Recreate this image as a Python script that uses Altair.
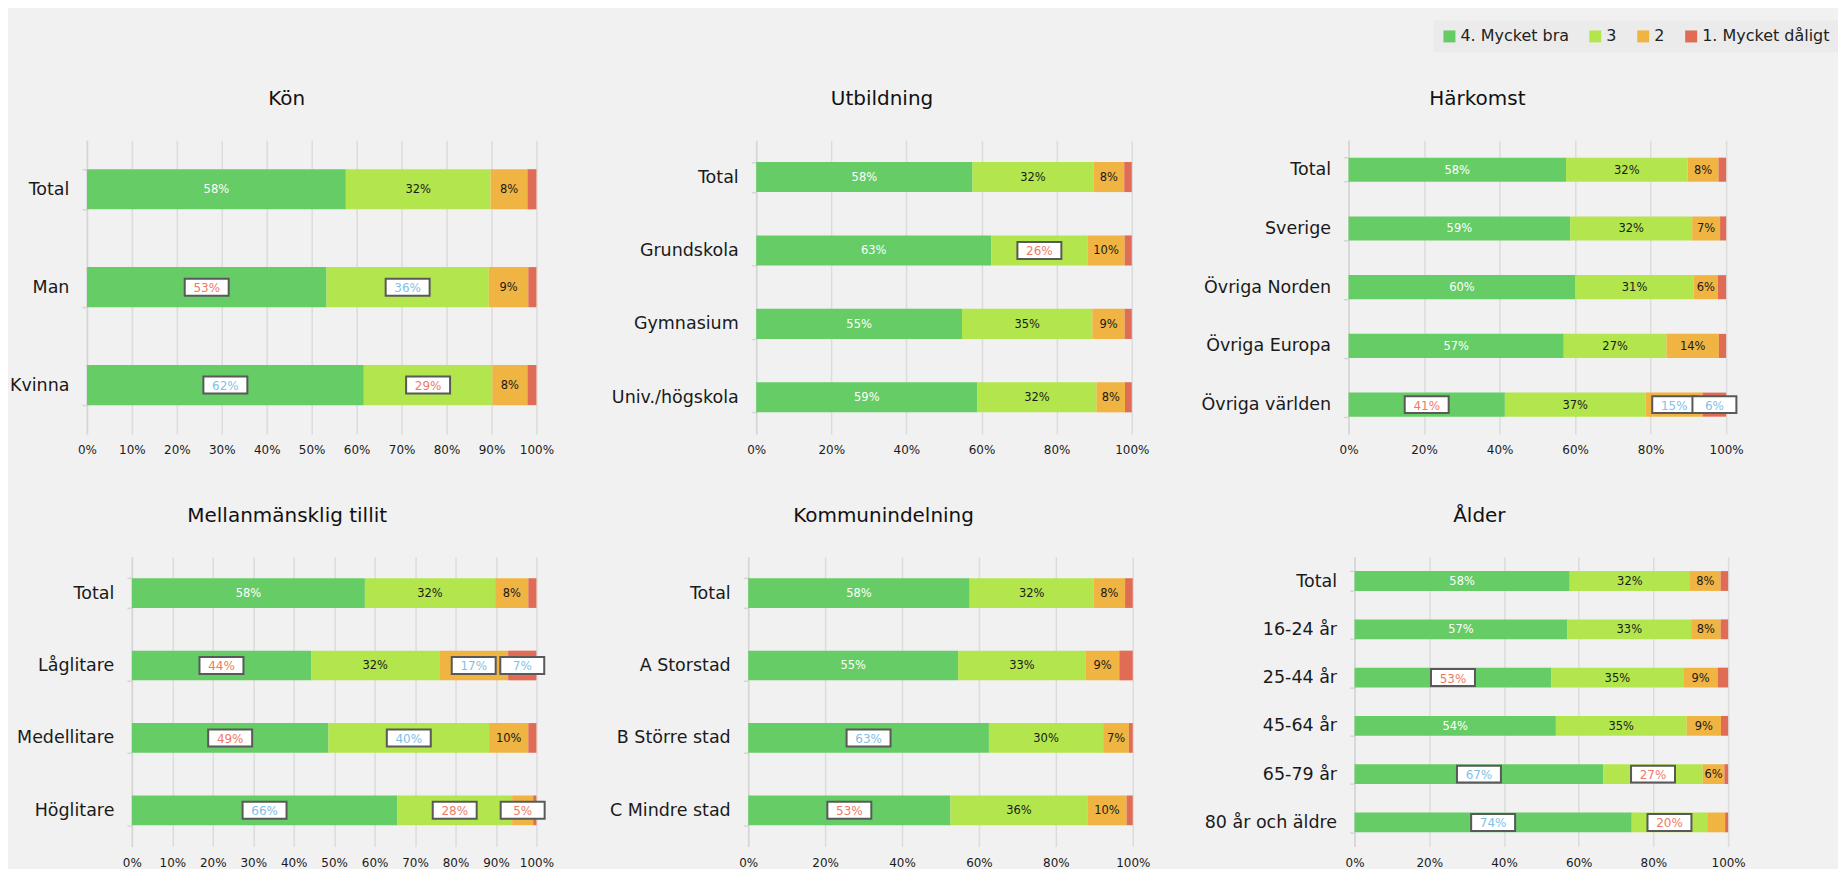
import altair as alt
import pandas as pd

SEGMENTS = ["4. Mycket bra", "3", "2", "1. Mycket dåligt"]
COLORS = ["#66cc66", "#b3e64d", "#f0b443", "#e06c55"]
TICKS = [0, 10, 20, 30, 40, 50, 60, 70, 80, 90, 100]

# flags per segment (4,3,2,1): w = white label, n = dark label,
# r = boxed red label, b = boxed blue label, - = no label
kon_title = "Kön"
kon_cats = ["Total", "Man", "Kvinna"]
kon_v4 = [57.6, 53.3, 61.6]
kon_v3 = [32.2, 36.1, 28.6]
kon_v2 = [8.2, 8.8, 7.8]
kon_v1 = [2.0, 1.8, 2.0]
kon_flags = ["wnn-", "rbn-", "brn-"]

utb_title = "Utbildning"
utb_cats = ["Total", "Grundskola", "Gymnasium", "Univ./högskola"]
utb_v4 = [57.6, 62.6, 54.8, 58.9]
utb_v3 = [32.2, 25.6, 34.7, 31.7]
utb_v2 = [8.2, 9.9, 8.6, 7.6]
utb_v1 = [2.0, 1.9, 1.9, 1.8]
utb_flags = ["wnn-", "wrn-", "wnn-", "wnn-"]

hark_title = "Härkomst"
hark_cats = ["Total", "Sverige", "Övriga Norden", "Övriga Europa", "Övriga världen"]
hark_v4 = [57.6, 58.7, 60.1, 57.0, 41.4]
hark_v3 = [32.2, 32.3, 31.3, 27.2, 37.3]
hark_v2 = [8.2, 7.4, 6.4, 13.9, 15.1]
hark_v1 = [2.0, 1.6, 2.2, 1.9, 6.2]
hark_flags = ["wnn-", "wnn-", "wnn-", "wnn-", "rnbb"]

mell_title = "Mellanmänsklig tillit"
mell_cats = ["Total", "Låglitare", "Medellitare", "Höglitare"]
mell_v4 = [57.6, 44.3, 48.6, 65.6]
mell_v3 = [32.2, 31.7, 39.7, 28.4]
mell_v2 = [8.2, 17.0, 9.7, 5.2]
mell_v1 = [2.0, 7.0, 2.0, 0.8]
mell_flags = ["wnn-", "rnbb", "rbn-", "brr-"]

komm_title = "Kommunindelning"
komm_cats = ["Total", "A Storstad", "B Större stad", "C Mindre stad"]
komm_v4 = [57.6, 54.6, 62.6, 52.6]
komm_v3 = [32.2, 33.2, 29.7, 35.6]
komm_v2 = [8.2, 8.7, 6.7, 10.2]
komm_v1 = [2.0, 3.5, 1.0, 1.6]
komm_flags = ["wnn-", "wnn-", "bnn-", "rnn-"]

alder_title = "Ålder"
alder_cats = ["Total", "16-24 år", "25-44 år", "45-64 år", "65-79 år", "80 år och äldre"]
alder_v4 = [57.6, 57.0, 52.7, 53.9, 66.6, 74.2]
alder_v3 = [32.2, 33.1, 35.3, 35.0, 26.6, 20.2]
alder_v2 = [8.2, 7.9, 9.2, 9.2, 5.8, 4.8]
alder_v1 = [2.0, 2.0, 2.8, 1.9, 1.0, 0.8]
alder_flags = ["wnn-", "wnn-", "rnn-", "wnn-", "brn-", "br--"]

FONT = "DejaVu Sans"
GRID = "#dcdcdc"
BOX_PATH = "M-1,-0.386L1,-0.386L1,0.386L-1,0.386Z"

LEGEND = alt.Legend(
    orient="none", legendX=1303, legendY=-120, direction="horizontal",
    title=None, symbolType="square", symbolSize=144, symbolStrokeWidth=0,
    symbolOpacity=1, labelFont=FONT, labelFontSize=16, labelColor="#222",
    labelOffset=3, columnPadding=18, padding=8, fillColor="#ebebeb",
    labelLimit=400,
)


def build_table(cats, v4, v3, v2, v1, flags):
    rows = []
    vals = [v4, v3, v2, v1]
    for i, c in enumerate(cats):
        start = 0.0
        for k in range(4):
            v = vals[k][i]
            rows.append(dict(cat=c, seg=SEGMENTS[k], order=k, start=start,
                             end=start + v, mid=start + v / 2,
                             flag=flags[i][k], label=f"{round(v)}%"))
            start += v
    return pd.DataFrame(rows)


def panel(title, cats, v4, v3, v2, v1, flags, width, height, ext, tdx, shift=0):
    df = build_table(cats, v4, v3, v2, v1, flags)
    axis_kw = dict(domain=True, domainColor="#d6d6d6", domainWidth=1.5,
                   ticks=True, tickColor="#d6d6d6", tickWidth=1.5,
                   tickSize=5, tickBand="extent", grid=False,
                   labelFont=FONT, labelFontSize=17.5, labelColor="#1a1a1a",
                   labelPadding=13, labelLimit=400)
    if ext is not None:
        axis_kw.update(minExtent=ext, maxExtent=ext)
    if shift:
        axis_kw.update(offset=shift)
    y = alt.Y("cat:N", sort=cats, title=None,
              scale=alt.Scale(paddingInner=0.59, paddingOuter=0.295),
              axis=alt.Axis(**axis_kw))
    xaxis = alt.Axis(values=TICKS, labelExpr="datum.value + '%'", domain=False,
                     ticks=False, grid=True, gridColor=GRID, gridWidth=1.5,
                     labelFont=FONT, labelFontSize=12, labelColor="#1a1a1a",
                     labelPadding=11, labelFlush=False, labelOverlap=False)
    xscale = alt.Scale(domain=[0, 100], nice=False, zero=True)
    if shift:
        xscale = alt.Scale(domain=[0, 100], nice=False, zero=True,
                           range=[-shift, width])
    base = alt.Chart(df)
    bars = base.mark_bar().encode(
        y=y,
        x=alt.X("start:Q", title=None, axis=xaxis, scale=xscale),
        x2="end:Q",
        color=alt.Color("seg:N", scale=alt.Scale(domain=SEGMENTS, range=COLORS),
                        legend=LEGEND),
        order=alt.Order("order:Q"),
    )
    xm = alt.X("mid:Q")
    ym = alt.Y("cat:N", sort=cats)
    white = base.transform_filter("datum.flag == 'w'").mark_text(
        font=FONT, fontSize=11.5, color="white", baseline="middle", dy=1
    ).encode(x=xm, y=ym, text="label:N")
    dark = base.transform_filter("datum.flag == 'n'").mark_text(
        font=FONT, fontSize=11.5, color="#1a1a1a", baseline="middle", dy=1
    ).encode(x=xm, y=ym, text="label:N")
    boxes = base.transform_filter("datum.flag == 'r' || datum.flag == 'b'").mark_point(
        shape=BOX_PATH, size=1936, filled=True, fill="white", stroke="#595959",
        strokeWidth=2, opacity=1
    ).encode(x=xm, y=ym)
    red = base.transform_filter("datum.flag == 'r'").mark_text(
        font=FONT, fontSize=12, color="#ee7a66", baseline="middle", dy=1
    ).encode(x=xm, y=ym, text="label:N")
    blue = base.transform_filter("datum.flag == 'b'").mark_text(
        font=FONT, fontSize=12, color="#7fc1e8", baseline="middle", dy=1
    ).encode(x=xm, y=ym, text="label:N")
    return alt.layer(bars, white, dark, boxes, red, blue).properties(
        width=width, height=height,
        title=alt.TitleParams(title, font=FONT, fontSize=20, fontWeight="normal",
                              color="#111", anchor="middle", frame="group",
                              dx=tdx, offset=22),
    )


row1 = alt.hconcat(
    panel(kon_title, kon_cats, kon_v4, kon_v3, kon_v2, kon_v1, kon_flags, 405, 294, None, -47.5, shift=45),
    panel(utb_title, utb_cats, utb_v4, utb_v3, utb_v2, utb_v1, utb_flags, 376, 294, 164.5, -62),
    panel(hark_title, hark_cats, hark_v4, hark_v3, hark_v2, hark_v1, hark_flags, 378, 294, 189, -60),
    spacing=10,
).resolve_scale(color="shared")

row2 = alt.hconcat(
    panel(mell_title, mell_cats, mell_v4, mell_v3, mell_v2, mell_v1, mell_flags, 405, 290, 124, -47),
    panel(komm_title, komm_cats, komm_v4, komm_v3, komm_v2, komm_v1, komm_flags, 385, 290, 183.5, -57),
    panel(alder_title, alder_cats, alder_v4, alder_v3, alder_v2, alder_v1, alder_flags, 374, 290, 193.5, -62),
    spacing=10,
).resolve_scale(color="shared")

chart = alt.vconcat(row1, row2, spacing=50).resolve_scale(color="shared").properties(
    background="#f1f1f1",
    padding={"left": 0, "top": 12, "right": 0, "bottom": 0},
).configure_view(stroke=None)

chart.save("out.html", embed_options={"renderer": "svg", "actions": False})
